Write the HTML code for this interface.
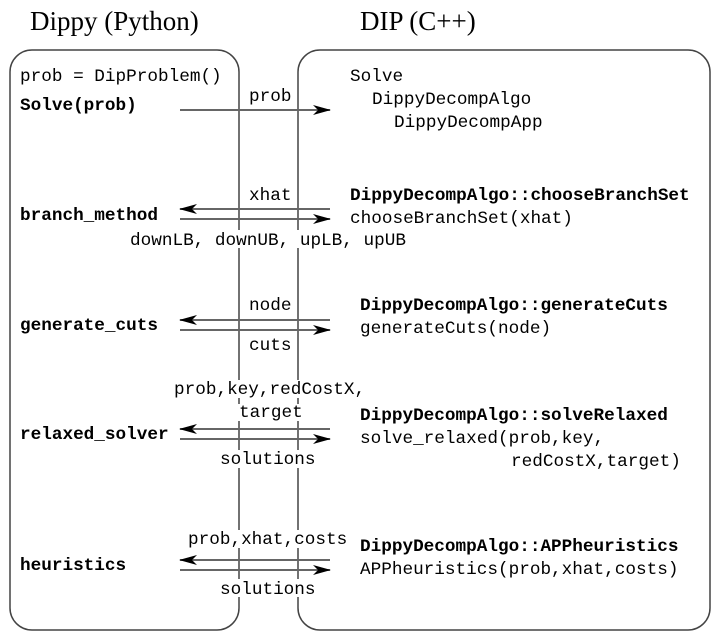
<!DOCTYPE html>
<html><head><style>
html,body{margin:0;padding:0;background:#fff;}
svg{display:block}
.m{font-family:"Liberation Mono",monospace;font-size:17.7px;fill:#000}
.b{font-weight:bold}
.t{font-family:"Liberation Serif",serif;font-size:27px;fill:#000}
.l{stroke:#666;stroke-width:2;fill:none}
</style></head><body>
<svg width="720" height="640" viewBox="0 0 720 640" xmlns="http://www.w3.org/2000/svg">
<defs><marker id="a" markerWidth="18" markerHeight="10" refX="17" refY="5" orient="auto" markerUnits="userSpaceOnUse"><path d="M0,0 L18,5 L0,10 L5,5 z" fill="#000"/></marker></defs>
<text class="t" x="30" y="30">Dippy (Python)</text>
<text class="t" x="360" y="30">DIP (C++)</text>
<rect class="l" x="10" y="50" width="229" height="580" rx="22" style="stroke:#444;stroke-width:1.5"/>
<rect class="l" x="298" y="50" width="412" height="580" rx="22" style="stroke:#444;stroke-width:1.5"/>
<g class="l" style="stroke:#666">
<line x1="180" y1="110" x2="330" y2="110" marker-end="url(#a)"/>
<line x1="330" y1="209" x2="180" y2="209" marker-end="url(#a)"/>
<line x1="180" y1="219" x2="330" y2="219" marker-end="url(#a)"/>
<line x1="330" y1="320" x2="180" y2="320" marker-end="url(#a)"/>
<line x1="180" y1="330" x2="330" y2="330" marker-end="url(#a)"/>
<line x1="330" y1="429" x2="180" y2="429" marker-end="url(#a)"/>
<line x1="180" y1="439" x2="330" y2="439" marker-end="url(#a)"/>
<line x1="330" y1="560" x2="180" y2="560" marker-end="url(#a)"/>
<line x1="180" y1="570" x2="330" y2="570" marker-end="url(#a)"/>
</g>
<g fill="#fff">
<rect x="128" y="230" width="285" height="18"/>
<rect x="172" y="380" width="195" height="18"/>
<rect x="237" y="404" width="70" height="17"/>
<rect x="218" y="450" width="100" height="18"/>
<rect x="185" y="530" width="160" height="18"/>
<rect x="218" y="579" width="100" height="18"/>
</g>
<text class="m" x="20" y="81">prob = DipProblem()</text>
<text class="m b" x="20" y="110">Solve(prob)</text>
<text class="m" x="249" y="101">prob</text>
<text class="m" x="350" y="81">Solve</text>
<text class="m" x="372" y="104">DippyDecompAlgo</text>
<text class="m" x="394" y="127">DippyDecompApp</text>
<text class="m" x="249" y="200">xhat</text>
<text class="m b" x="20" y="220">branch_method</text>
<text class="m b" x="350" y="200">DippyDecompAlgo::chooseBranchSet</text>
<text class="m" x="350" y="223">chooseBranchSet(xhat)</text>
<text class="m" x="130" y="245">downLB, downUB, upLB, upUB</text>
<text class="m" x="249" y="310">node</text>
<text class="m b" x="20" y="330">generate_cuts</text>
<text class="m b" x="360" y="310">DippyDecompAlgo::generateCuts</text>
<text class="m" x="360" y="333">generateCuts(node)</text>
<text class="m" x="249" y="350">cuts</text>
<text class="m" x="174" y="394">prob,key,redCostX,</text>
<text class="m" x="239" y="417">target</text>
<text class="m b" x="20" y="439">relaxed_solver</text>
<text class="m b" x="360" y="420">DippyDecompAlgo::solveRelaxed</text>
<text class="m" x="360" y="443">solve_relaxed(prob,key,</text>
<text class="m" x="511" y="466">redCostX,target)</text>
<text class="m" x="220" y="464">solutions</text>
<text class="m" x="188" y="544">prob,xhat,costs</text>
<text class="m b" x="20" y="570">heuristics</text>
<text class="m b" x="360" y="551">DippyDecompAlgo::APPheuristics</text>
<text class="m" x="360" y="574">APPheuristics(prob,xhat,costs)</text>
<text class="m" x="220" y="594">solutions</text>
</svg>
</body></html>
